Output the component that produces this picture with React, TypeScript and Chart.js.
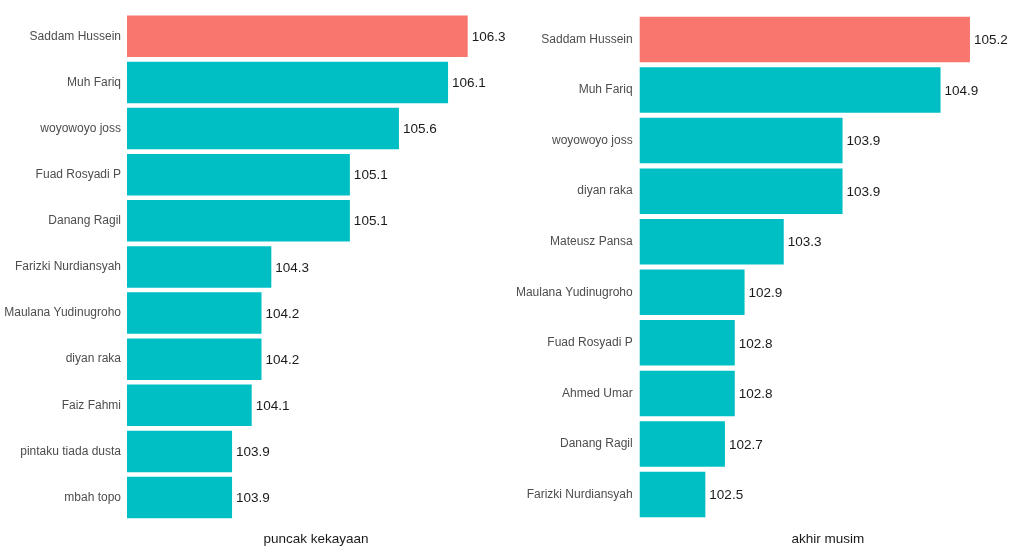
import React, { useEffect, useRef } from "react";
import { Chart, registerables } from "chart.js";

Chart.register(...registerables);

const leftNames = [
  "Saddam Hussein",
  "Muh Fariq",
  "woyowoyo joss",
  "Fuad Rosyadi P",
  "Danang Ragil",
  "Farizki Nurdiansyah",
  "Maulana Yudinugroho",
  "diyan raka",
  "Faiz Fahmi",
  "pintaku tiada dusta",
  "mbah topo",
];
const leftValues = [106.3, 106.1, 105.6, 105.1, 105.1, 104.3, 104.2, 104.2, 104.1, 103.9, 103.9];
const leftTitle = "puncak kekayaan";

const rightNames = [
  "Saddam Hussein",
  "Muh Fariq",
  "woyowoyo joss",
  "diyan raka",
  "Mateusz Pansa",
  "Maulana Yudinugroho",
  "Fuad Rosyadi P",
  "Ahmed Umar",
  "Danang Ragil",
  "Farizki Nurdiansyah",
];
const rightValues = [105.2, 104.9, 103.9, 103.9, 103.3, 102.9, 102.8, 102.8, 102.7, 102.5];
const rightTitle = "akhir musim";

const FONT = '"Liberation Sans", Arial, sans-serif';
const RED = "#F8766D";
const TEAL = "#00BFC4";

const valueLabels = {
  id: "valueLabels",
  afterDatasetsDraw(chart: any) {
    const ctx = chart.ctx;
    const meta = chart.getDatasetMeta(0);
    const data = chart.data.datasets[0].data as number[];
    ctx.save();
    ctx.font = `13.5px ${FONT}`;
    ctx.fillStyle = "#1a1a1a";
    ctx.textAlign = "left";
    ctx.textBaseline = "middle";
    meta.data.forEach((bar: any, i: number) => {
      ctx.fillText(data[i].toFixed(1), bar.x + 4, bar.y + 1);
    });
    ctx.restore();
  },
};

type PanelProps = {
  names: string[];
  values: number[];
  title: string;
  xMin: number;
  xMax: number;
  axisWidth: number;
  padTop: number;
  padRight: number;
  bottomHeight: number;
  left: number;
};

function Panel(p: PanelProps) {
  const ref = useRef<HTMLCanvasElement>(null);
  useEffect(() => {
    if (!ref.current) return;
    const maxV = Math.max(...p.values);
    const chart = new Chart(ref.current, {
      type: "bar",
      data: {
        labels: p.names,
        datasets: [
          {
            data: p.values,
            backgroundColor: p.values.map((v, i) => (i === 0 && v === maxV ? RED : TEAL)),
            borderWidth: 0,
            barPercentage: 0.9,
            categoryPercentage: 1,
            clip: 0 as any,
          },
        ],
      },
      options: {
        indexAxis: "y",
        animation: false,
        responsive: false,
        maintainAspectRatio: false,
        layout: { padding: { top: p.padTop, right: p.padRight, left: 0, bottom: 0 } },
        plugins: { legend: { display: false }, tooltip: { enabled: false } },
        scales: {
          x: {
            type: "linear",
            min: p.xMin,
            max: p.xMax,
            grid: { display: false, drawTicks: false },
            border: { display: false },
            ticks: { display: false },
            title: {
              display: true,
              text: p.title,
              color: "#1a1a1a",
              font: { family: FONT, size: 13.5 },
              padding: { top: 0, bottom: 6.9 },
            },
            afterFit: (s: any) => {
              s.height = p.bottomHeight;
            },
          },
          y: {
            type: "category",
            grid: { display: false, drawTicks: false },
            border: { display: false },
            ticks: {
              color: "#4d4d4d",
              font: { family: FONT, size: 12 },
              padding: p.left === 0 ? 6 : 7,
              autoSkip: false,
            },
            afterFit: (s: any) => {
              s.width = p.axisWidth;
            },
          },
        },
      },
      plugins: [valueLabels],
    });
    return () => chart.destroy();
  }, []);
  return (
    <div style={{ position: "absolute", left: p.left, top: 0, width: 512, height: 554 }}>
      <canvas ref={ref} width={512} height={554} style={{ width: 512, height: 554, display: "block" }} />
    </div>
  );
}

export default function App() {
  return (
    <div
      style={{
        position: "absolute",
        left: 0,
        top: 0,
        width: 1024,
        height: 554,
        background: "#ffffff",
        overflow: "hidden",
      }}
    >
      <Panel
        names={leftNames}
        values={leftValues}
        title={leftTitle}
        xMin={102.83}
        xMax={106.68}
        axisWidth={127}
        padTop={11}
        padRight={7}
        bottomHeight={33.4}
        left={0}
      />
      <Panel
        names={rightNames}
        values={rightValues}
        title={rightTitle}
        xMin={101.83}
        xMax={105.67}
        axisWidth={127.7}
        padTop={11.8}
        padRight={8}
        bottomHeight={34.2}
        left={512}
      />
    </div>
  );
}
